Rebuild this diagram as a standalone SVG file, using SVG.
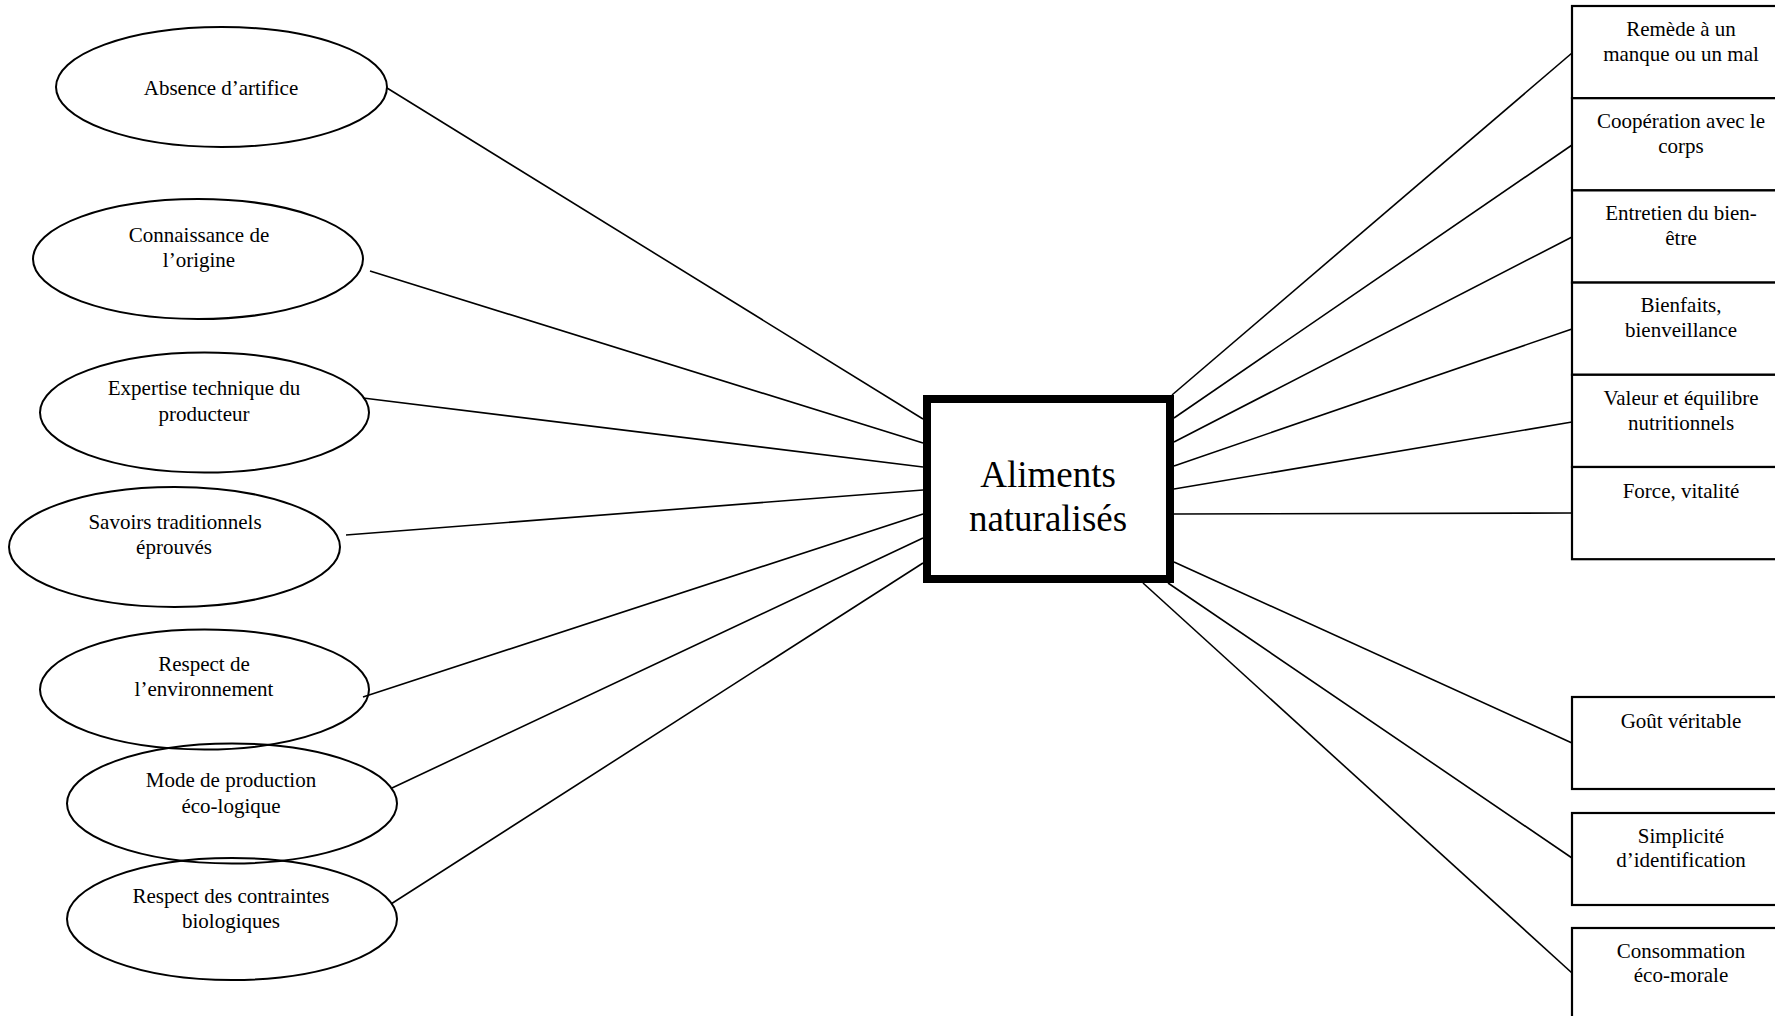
<svg xmlns="http://www.w3.org/2000/svg" width="1775" height="1016" viewBox="0 0 1775 1016">
  <style>
    text { font-family: "Liberation Serif", "Times New Roman", serif; fill: #000; text-anchor: middle; }
    .lbl { font-size: 21px; }
    .core { font-size: 37px; }
    .oval { fill: none; stroke: #000; stroke-width: 2; }
    .card { fill: #fff; stroke: #000; stroke-width: 2.2; }
    .link { stroke: #000; stroke-width: 1.6; fill: none; }
  </style>
  <rect width="1775" height="1016" fill="#fff"/>

  <!-- connectors -->
  <g id="connectors" class="link">
    <!-- left side: ovals to centre box -->
    <line x1="387" y1="88" x2="923" y2="419"/>
    <line x1="370" y1="271" x2="923" y2="443"/>
    <line x1="363" y1="398" x2="923" y2="467"/>
    <line x1="346" y1="535" x2="923" y2="490"/>
    <line x1="363" y1="697" x2="923" y2="514"/>
    <line x1="392" y1="788" x2="923" y2="538"/>
    <line x1="391" y1="904" x2="923" y2="563"/>
    <!-- right side: centre box to cards -->
    <line x1="1172" y1="395" x2="1572" y2="53"/>
    <line x1="1174" y1="418" x2="1572" y2="145"/>
    <line x1="1174" y1="442" x2="1572" y2="237"/>
    <line x1="1174" y1="466" x2="1572" y2="329"/>
    <line x1="1174" y1="489" x2="1572" y2="422"/>
    <line x1="1174" y1="514" x2="1572" y2="513"/>
    <line x1="1174" y1="562" x2="1572" y2="743"/>
    <line x1="1168" y1="583" x2="1572" y2="858"/>
    <line x1="1143" y1="583" x2="1572" y2="973"/>
  </g>

  <!-- left ovals -->
  <g id="absence-artifice">
    <ellipse class="oval" cx="221.5" cy="87" rx="165.5" ry="60"/>
    <text class="lbl" x="221" y="95">Absence d’artifice</text>
  </g>
  <g id="connaissance-origine">
    <ellipse class="oval" cx="198" cy="259" rx="165" ry="60"/>
    <text class="lbl" x="199" y="242">Connaissance de</text>
    <text class="lbl" x="199" y="267">l’origine</text>
  </g>
  <g id="expertise-technique">
    <ellipse class="oval" cx="204.5" cy="412.5" rx="164.5" ry="60"/>
    <text class="lbl" x="204" y="395">Expertise technique du</text>
    <text class="lbl" x="204" y="421">producteur</text>
  </g>
  <g id="savoirs-traditionnels">
    <ellipse class="oval" cx="174.5" cy="547" rx="165.5" ry="60"/>
    <text class="lbl" x="175" y="529">Savoirs traditionnels</text>
    <text class="lbl" x="174" y="554">éprouvés</text>
  </g>
  <g id="respect-environnement">
    <ellipse class="oval" cx="204.5" cy="689.5" rx="164.5" ry="60"/>
    <text class="lbl" x="204" y="671">Respect de</text>
    <text class="lbl" x="204" y="696">l’environnement</text>
  </g>
  <g id="mode-production">
    <ellipse class="oval" cx="232" cy="803.5" rx="165" ry="60"/>
    <text class="lbl" x="231" y="787">Mode de production</text>
    <text class="lbl" x="231" y="813">éco-logique</text>
  </g>
  <g id="contraintes-biologiques">
    <ellipse class="oval" cx="232" cy="919" rx="165" ry="61"/>
    <text class="lbl" x="231" y="903">Respect des contraintes</text>
    <text class="lbl" x="231" y="928">biologiques</text>
  </g>

  <!-- centre box -->
  <g id="aliments-naturalises">
    <rect x="927" y="399" width="243" height="180" fill="#fff" stroke="#000" stroke-width="8"/>
    <text class="core" x="1048" y="487">Aliments</text>
    <text class="core" x="1048" y="531">naturalisés</text>
  </g>

  <!-- right cards (stacked column) -->
  <g id="remede">
    <rect class="card" x="1572" y="6" width="218" height="92.2"/>
    <text class="lbl" x="1681" y="36">Remède à un</text>
    <text class="lbl" x="1681" y="61">manque ou un mal</text>
  </g>
  <g id="cooperation">
    <rect class="card" x="1572" y="98.2" width="218" height="92.2"/>
    <text class="lbl" x="1681" y="128">Coopération avec le</text>
    <text class="lbl" x="1681" y="153">corps</text>
  </g>
  <g id="entretien">
    <rect class="card" x="1572" y="190.4" width="218" height="92.2"/>
    <text class="lbl" x="1681" y="220">Entretien du bien-</text>
    <text class="lbl" x="1681" y="245">être</text>
  </g>
  <g id="bienfaits">
    <rect class="card" x="1572" y="282.6" width="218" height="92.2"/>
    <text class="lbl" x="1681" y="312">Bienfaits,</text>
    <text class="lbl" x="1681" y="337">bienveillance</text>
  </g>
  <g id="valeur-nutritionnelle">
    <rect class="card" x="1572" y="374.8" width="218" height="92.2"/>
    <text class="lbl" x="1681" y="405">Valeur et équilibre</text>
    <text class="lbl" x="1681" y="430">nutritionnels</text>
  </g>
  <g id="force-vitalite">
    <rect class="card" x="1572" y="467" width="218" height="92.2"/>
    <text class="lbl" x="1681" y="498">Force, vitalité</text>
  </g>

  <!-- right cards (lower, separate) -->
  <g id="gout-veritable">
    <rect class="card" x="1572" y="697" width="218" height="92"/>
    <text class="lbl" x="1681" y="728">Goût véritable</text>
  </g>
  <g id="simplicite-identification">
    <rect class="card" x="1572" y="813" width="218" height="92"/>
    <text class="lbl" x="1681" y="843">Simplicité</text>
    <text class="lbl" x="1681" y="867">d’identification</text>
  </g>
  <g id="consommation-eco-morale">
    <rect class="card" x="1572" y="928" width="218" height="92"/>
    <text class="lbl" x="1681" y="958">Consommation</text>
    <text class="lbl" x="1681" y="982">éco-morale</text>
  </g>
</svg>
